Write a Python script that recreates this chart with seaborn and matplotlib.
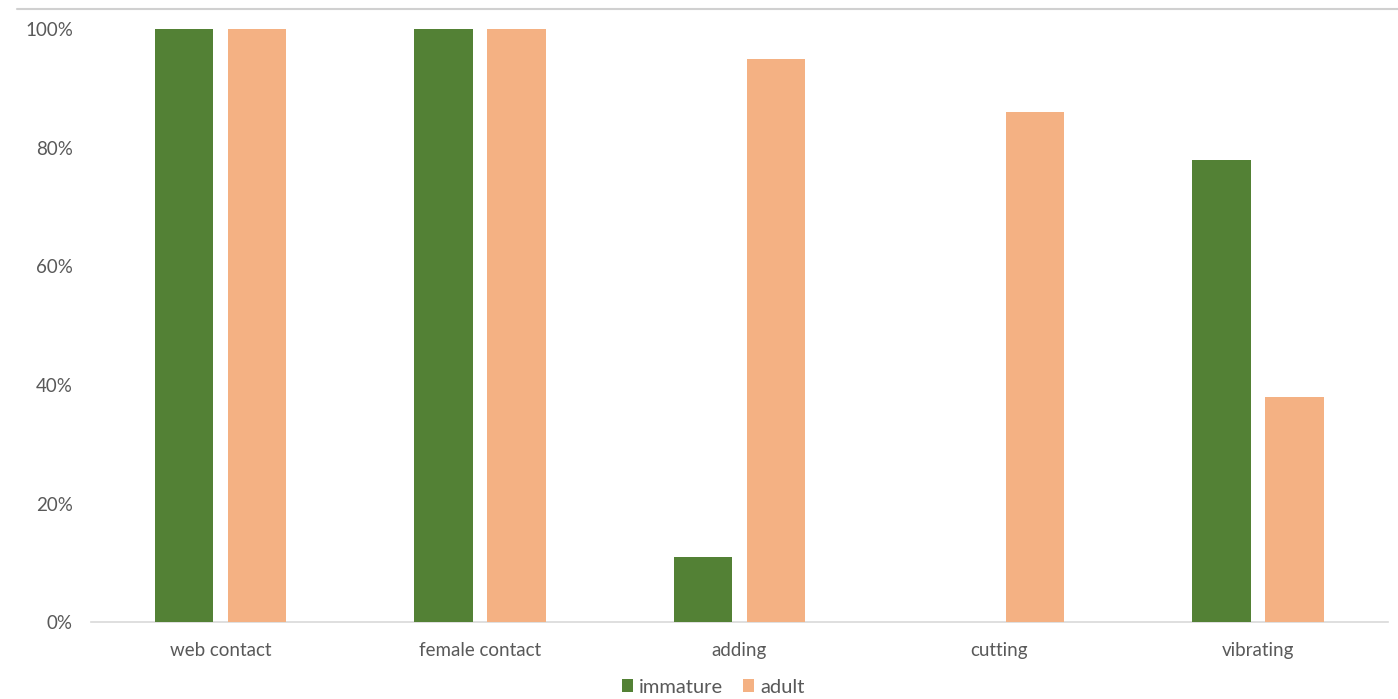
import matplotlib
matplotlib.use("Agg")
import matplotlib.pyplot as plt
from matplotlib.lines import Line2D
from matplotlib.patches import Patch
import seaborn as sns
import pandas as pd

categories = ["web contact", "female contact", "adding", "cutting", "vibrating"]
immature = [100, 100, 11, 0, 78]
adult = [100, 100, 95, 86, 38]
series_names = ["immature", "adult"]
y_ticks = [0, 20, 40, 60, 80, 100]

df = pd.DataFrame({
    "behaviour": categories * 2,
    "value": immature + adult,
    "group": [series_names[0]] * len(categories) + [series_names[1]] * len(categories),
})

sns.set_style("white")
plt.rcParams["font.family"] = ["Lato", "DejaVu Sans"]

text_color = "#595959"
colors = {"immature": "#538135", "adult": "#F4B183"}

fig = plt.figure(figsize=(13.98, 6.99), dpi=100)
ax = fig.add_axes([0.065, 0.110, 0.9276, 0.848])

sns.barplot(data=df, x="behaviour", y="value", hue="group", hue_order=series_names,
            palette=colors, width=0.563, gap=0.2, saturation=1, linewidth=0,
            ax=ax, legend=False)

ax.set_ylim(0, 100)
ax.set_xlim(-0.5, len(categories) - 0.5)
ax.set_yticks(y_ticks)
ax.set_yticklabels([f"{t}%" for t in y_ticks])
ax.set_xlabel("")
ax.set_ylabel("")
ax.tick_params(axis="both", length=0, labelsize=13.5, colors=text_color)
ax.tick_params(axis="y", pad=13)
ax.tick_params(axis="x", pad=14)
for side in ["top", "right", "left"]:
    ax.spines[side].set_visible(False)
ax.spines["bottom"].set_color("#D9D9D9")
ax.spines["bottom"].set_linewidth(1.2)
ax.spines["bottom"].set_zorder(0)

# chart frame line at the top
fig.add_artist(Line2D([17 / 1398, 1.0], [1 - 9 / 699, 1 - 9 / 699],
                      transform=fig.transFigure, color="#D0D0D0", linewidth=1.5))

handles = [Patch(facecolor=colors[n], edgecolor="none") for n in series_names]
fig.legend(handles, series_names, loc="center", bbox_to_anchor=(0.51, 0.017),
           ncol=2, frameon=False, fontsize=14.5, labelcolor=text_color,
           handlelength=0.55, handleheight=0.55, handletextpad=0.3, columnspacing=1.0)

fig.savefig("out.png", dpi=100, facecolor="white")
